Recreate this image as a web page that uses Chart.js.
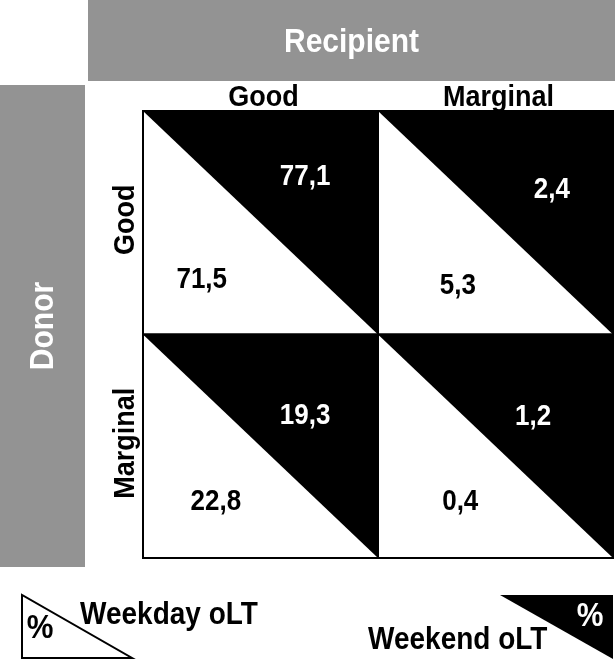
<!DOCTYPE html>
<html>
<head>
<meta charset="utf-8">
<script src="https://cdn.jsdelivr.net/npm/chart.js@4"></script>
<style>
  html, body { margin: 0; padding: 0; background: #fff; }
  canvas { display: block; }
</style>
</head>
<body>
<canvas id="myChart" width="615" height="661"></canvas>
<script>
// categories
const recipientCats = ['Good', 'Marginal'];
const donorCats = ['Good', 'Marginal'];

// values in %, row-major: donor row, recipient column
const weekdayPct = [71.5, 5.3, 22.8, 0.4];
const weekendPct = [77.1, 2.4, 19.3, 1.2];

const FONT = '"Liberation Sans", Arial, sans-serif';
const GREY = '#939393';
const STRETCH = 1.1; // the original lettering is a bit taller than Arial

// where each label sits inside its cell (fraction of cell width / height)
const weekdayAnchor = [[0.25, 0.75], [0.34, 0.78], [0.31, 0.745], [0.35, 0.745]];
const weekendAnchor = [[0.69, 0.29], [0.74, 0.35], [0.69, 0.36], [0.66, 0.365]];

function fmt(v) {
  return v.toFixed(1).replace('.', ',');
}

function cellPoints(values) {
  return values.map((v, i) => ({
    x: (i % recipientCats.length) + 0.5,
    y: Math.floor(i / recipientCats.length) + 0.5,
    v: v
  }));
}

// text with a little vertical stretch, optional rotation
function tallText(ctx, text, x, y, rotate) {
  ctx.save();
  ctx.translate(x, y);
  if (rotate) ctx.rotate(-Math.PI / 2);
  ctx.scale(1, STRETCH);
  ctx.fillText(text, 0, 0);
  ctx.restore();
}

//draws the split cells, headers and the key
const splitCells = {
  id: 'splitCells',
  afterDatasetsDraw(chart) {
    const ctx = chart.ctx;
    const xs = chart.scales.x;
    const ys = chart.scales.y;
    const area = chart.chartArea;

    ctx.save();

    // header bars
    ctx.fillStyle = GREY;
    ctx.fillRect(88, 0, 615 - 88, 81);
    ctx.fillRect(0, 85, 85, 482);

    ctx.fillStyle = '#fff';
    ctx.textAlign = 'center';
    ctx.textBaseline = 'middle';
    ctx.font = 'bold 30px ' + FONT;
    tallText(ctx, 'Recipient', (88 + 615) / 2, 43);
    tallText(ctx, 'Donor', 44, 85 + 482 / 2, true);

    // cells
    for (let r = 0; r < donorCats.length; r++) {
      for (let c = 0; c < recipientCats.length; c++) {
        const x0 = xs.getPixelForValue(c), x1 = xs.getPixelForValue(c + 1);
        const y0 = ys.getPixelForValue(r), y1 = ys.getPixelForValue(r + 1);
        ctx.fillStyle = '#fff';
        ctx.fillRect(x0, y0, x1 - x0, y1 - y0);
        ctx.fillStyle = '#000';
        ctx.beginPath();
        ctx.moveTo(x0, y0);
        ctx.lineTo(x1, y0);
        ctx.lineTo(x1, y1);
        ctx.closePath();
        ctx.fill();
        ctx.lineWidth = 2;
        ctx.strokeStyle = '#000';
        ctx.strokeRect(x0, y0, x1 - x0, y1 - y0);
      }
    }

    // column and row headers
    ctx.fillStyle = '#000';
    ctx.font = 'bold 27px ' + FONT;
    recipientCats.forEach((name, c) => {
      const cx = (xs.getPixelForValue(c) + xs.getPixelForValue(c + 1)) / 2;
      tallText(ctx, name, cx + 3, area.top - 13);
    });
    donorCats.forEach((name, r) => {
      const cy = (ys.getPixelForValue(r) + ys.getPixelForValue(r + 1)) / 2;
      tallText(ctx, name, 126, cy - 3, true);
    });

    // values
    const drawValues = (dsIndex, anchors, color) => {
      ctx.fillStyle = color;
      chart.data.datasets[dsIndex].data.forEach((p, i) => {
        const x0 = xs.getPixelForValue(p.x - 0.5), x1 = xs.getPixelForValue(p.x + 0.5);
        const y0 = ys.getPixelForValue(p.y - 0.5), y1 = ys.getPixelForValue(p.y + 0.5);
        const a = anchors[i];
        tallText(ctx, fmt(p.v), x0 + (x1 - x0) * a[0], y0 + (y1 - y0) * a[1] + 1);
      });
    };
    ctx.font = 'bold 26px ' + FONT;
    drawValues(0, weekdayAnchor, '#000');
    drawValues(1, weekendAnchor, '#fff');

    // key
    ctx.lineWidth = 2;
    ctx.strokeStyle = '#000';
    ctx.fillStyle = '#fff';
    ctx.beginPath();
    ctx.moveTo(22, 595);
    ctx.lineTo(22, 658);
    ctx.lineTo(132, 658);
    ctx.closePath();
    ctx.fill();
    ctx.stroke();

    ctx.fillStyle = '#000';
    ctx.beginPath();
    ctx.moveTo(500, 595);
    ctx.lineTo(613, 595);
    ctx.lineTo(613, 659);
    ctx.closePath();
    ctx.fill();

    ctx.font = 'bold 30px ' + FONT;
    ctx.fillStyle = '#000';
    tallText(ctx, '%', 40, 629);
    ctx.fillStyle = '#fff';
    tallText(ctx, '%', 590, 617);

    ctx.fillStyle = '#000';
    ctx.font = 'bold 28px ' + FONT;
    ctx.textAlign = 'left';
    tallText(ctx, chart.data.datasets[0].label, 80, 616);
    tallText(ctx, chart.data.datasets[1].label, 368, 641);

    ctx.restore();
  }
};

const config = {
  type: 'scatter',
  data: {
    datasets: [
      { label: 'Weekday oLT', data: cellPoints(weekdayPct), pointRadius: 0 },
      { label: 'Weekend oLT', data: cellPoints(weekendPct), pointRadius: 0 }
    ]
  },
  options: {
    responsive: false,
    animation: false,
    devicePixelRatio: 1,
    layout: { padding: { left: 143, top: 111, right: 2, bottom: 103 } },
    scales: {
      x: { type: 'linear', min: 0, max: 2, display: false },
      y: { type: 'linear', min: 0, max: 2, reverse: true, display: false }
    },
    plugins: {
      legend: { display: false },
      tooltip: { enabled: false }
    }
  },
  plugins: [splitCells]
};

let myChart = new Chart(document.getElementById('myChart'), config);
</script>
</body>
</html>
